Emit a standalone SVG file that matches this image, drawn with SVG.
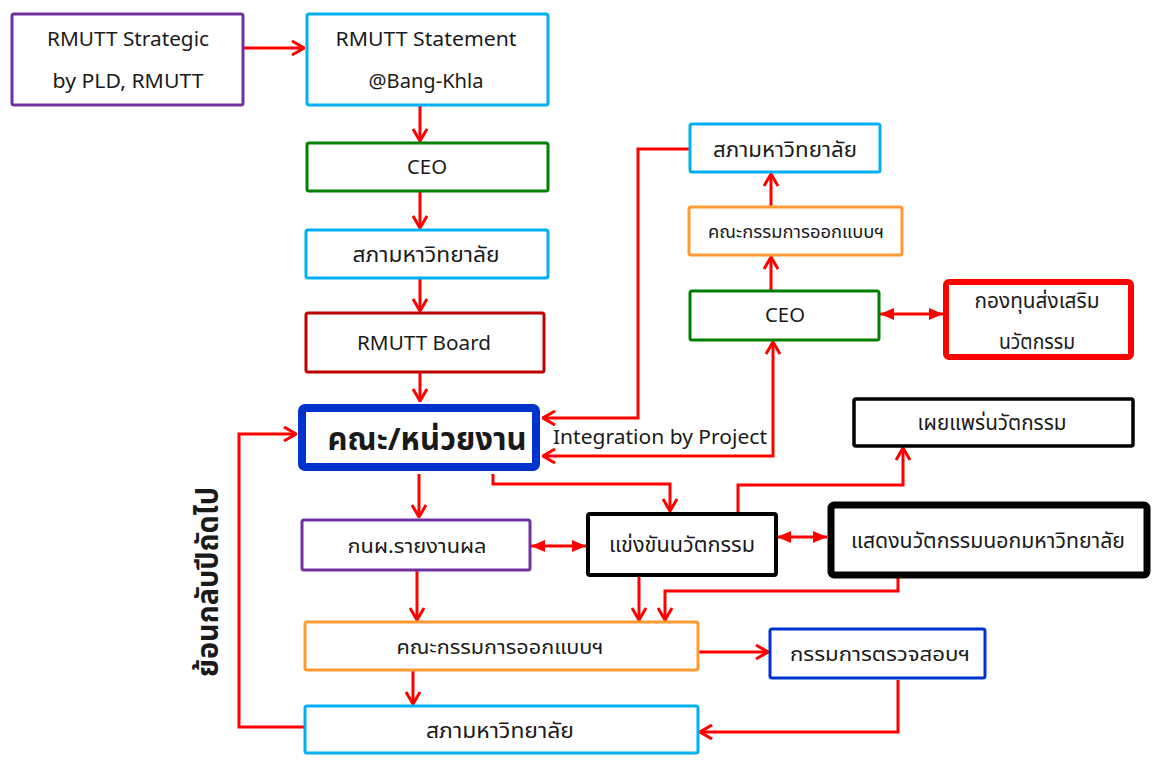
<svg xmlns="http://www.w3.org/2000/svg" width="1153" height="764" viewBox="0 0 1153 764">
<defs>
<style>
.b{fill:#fff;stroke-width:3}
.t{font-family:"Noto Sans","Noto Sans Thai","Leelawadee UI",Tahoma,sans-serif;fill:#1a1a1a;text-anchor:middle;font-size:20px}
.th{font-size:22px}
.c{fill:none;stroke:#ff0000;stroke-width:3}
</style>
<marker id="a" viewBox="0 0 14 16" refX="13" refY="8" markerWidth="14" markerHeight="16" markerUnits="userSpaceOnUse" orient="auto-start-reverse">
<path d="M1,1 L13,8 L1,15" fill="none" stroke="#ff0000" stroke-width="3"/>
</marker>
<marker id="f" viewBox="0 0 14 14" refX="14" refY="7" markerWidth="14" markerHeight="14" markerUnits="userSpaceOnUse" orient="auto-start-reverse">
<path d="M0,1 L14,7 L0,13 Z" fill="#ff0000"/>
</marker>
</defs>
<rect width="1153" height="764" fill="#fff"/>
<g id="connectors">
<path class="c" d="M243,48 H304" marker-end="url(#a)"/>
<path class="c" d="M420,106 V141" marker-end="url(#a)"/>
<path class="c" d="M420,192 V228" marker-end="url(#a)"/>
<path class="c" d="M420,279 V311" marker-end="url(#a)"/>
<path class="c" d="M420,372 V401" marker-end="url(#a)"/>
<path class="c" d="M690,149 H638 V418 H543" marker-end="url(#a)"/>
<path class="c" d="M543,456 H773 V342" marker-start="url(#a)" marker-end="url(#a)"/>
<path class="c" d="M771,291 V257" marker-end="url(#a)"/>
<path class="c" d="M771,207 V174" marker-end="url(#a)"/>
<path class="c" d="M880,314 H943" marker-start="url(#f)" marker-end="url(#f)"/>
<path class="c" d="M419,474 V517" marker-end="url(#a)"/>
<path class="c" d="M493,474 V484 H670 V511" marker-end="url(#a)"/>
<path class="c" d="M531,546 H586" marker-start="url(#f)" marker-end="url(#f)"/>
<path class="c" d="M738,512 V485 H903 V448" marker-end="url(#a)"/>
<path class="c" d="M777,537 H827" marker-start="url(#f)" marker-end="url(#f)"/>
<path class="c" d="M417,571 V620" marker-end="url(#a)"/>
<path class="c" d="M639,577 V620" marker-end="url(#a)"/>
<path class="c" d="M898,578 V591 H665 V620" marker-end="url(#a)"/>
<path class="c" d="M699,652 H768" marker-end="url(#a)"/>
<path class="c" d="M413,671 V704" marker-end="url(#a)"/>
<path class="c" d="M898,680 V732 H700" marker-end="url(#a)"/>
<path class="c" d="M305,727 H239 V434 H296" marker-end="url(#a)"/>
</g>
<g id="n1"><rect class="b" x="12" y="14" width="231" height="91" rx="2" stroke="#7030a0"/><text class="t" x="128" y="46" textLength="162" lengthAdjust="spacingAndGlyphs">RMUTT Strategic</text><text class="t" x="128" y="88" textLength="151" lengthAdjust="spacingAndGlyphs">by PLD, RMUTT</text></g>
<g id="n2"><rect class="b" x="307" y="14" width="241" height="91" rx="2" stroke="#00b0f0"/><text class="t" x="426" y="46" textLength="181" lengthAdjust="spacingAndGlyphs">RMUTT Statement</text><text class="t" x="426" y="88" textLength="115" lengthAdjust="spacingAndGlyphs">@Bang-Khla</text></g>
<g id="n3"><rect class="b" x="307" y="143" width="241" height="48" rx="2" stroke="#008000"/><text class="t" x="427" y="174" textLength="40" lengthAdjust="spacingAndGlyphs">CEO</text></g>
<g id="n4"><rect class="b" x="306" y="230" width="242" height="48" rx="2" stroke="#00b0f0"/><text class="t th" x="426" y="262" textLength="147" lengthAdjust="spacingAndGlyphs">สภามหาวิทยาลัย</text></g>
<g id="n5"><rect class="b" x="306" y="313" width="238" height="59" rx="2" stroke="#c00000"/><text class="t" x="424" y="350" textLength="134" lengthAdjust="spacingAndGlyphs">RMUTT Board</text></g>
<g id="n6"><rect x="302" y="408" width="234" height="59" rx="3" fill="#fff" stroke="#0033cc" stroke-width="8"/><text class="t" x="427" y="450" style="font-size:31px;font-weight:bold" textLength="199" lengthAdjust="spacingAndGlyphs">คณะ/หน่วยงาน</text></g>
<text class="t" x="660" y="444" style="font-size:19px" textLength="214" lengthAdjust="spacingAndGlyphs">Integration by Project</text>
<g id="n7"><rect class="b" x="690" y="124" width="190" height="48" rx="2" stroke="#00b0f0"/><text class="t th" x="785" y="157" textLength="144" lengthAdjust="spacingAndGlyphs">สภามหาวิทยาลัย</text></g>
<g id="n8"><rect class="b" x="689" y="207" width="213" height="48" rx="2" stroke="#ff9933"/><text class="t" x="796" y="238" style="font-size:18px" textLength="176" lengthAdjust="spacingAndGlyphs">คณะกรรมการออกแบบฯ</text></g>
<g id="n9"><rect class="b" x="690" y="291" width="189" height="49" rx="2" stroke="#008000"/><text class="t" x="785" y="322" textLength="40" lengthAdjust="spacingAndGlyphs">CEO</text></g>
<g id="n10"><rect x="946" y="282" width="185" height="75" rx="3" fill="#fff" stroke="#ff0000" stroke-width="6"/><text class="t th" x="1037" y="308" textLength="125" lengthAdjust="spacingAndGlyphs">กองทุนส่งเสริม</text><text class="t th" x="1037" y="349" textLength="76" lengthAdjust="spacingAndGlyphs">นวัตกรรม</text></g>
<g id="n11"><rect x="854" y="399" width="279" height="47" rx="2" fill="#fff" stroke="#000" stroke-width="3.5"/><text class="t th" x="992" y="430" textLength="149" lengthAdjust="spacingAndGlyphs">เผยแพร่นวัตกรรม</text></g>
<g id="n12"><rect class="b" x="302" y="520" width="228" height="50" rx="2" stroke="#7030a0"/><text class="t" x="417" y="553" style="font-size:20px" textLength="139" lengthAdjust="spacingAndGlyphs">กนผ.รายงานผล</text></g>
<g id="n13"><rect x="588" y="514" width="188" height="61" rx="2" fill="#fff" stroke="#000" stroke-width="4"/><text class="t th" x="682" y="552" textLength="146" lengthAdjust="spacingAndGlyphs">แข่งขันนวัตกรรม</text></g>
<g id="n14"><rect x="831" y="505" width="316" height="70" rx="3" fill="#fff" stroke="#000" stroke-width="7"/><text class="t th" x="988" y="548" textLength="274" lengthAdjust="spacingAndGlyphs">แสดงนวัตกรรมนอกมหาวิทยาลัย</text></g>
<g id="n15"><rect class="b" x="305" y="622" width="393" height="48" rx="2" stroke="#ff9933"/><text class="t" x="500" y="654" style="font-size:20px" textLength="207" lengthAdjust="spacingAndGlyphs">คณะกรรมการออกแบบฯ</text></g>
<g id="n16"><rect class="b" x="770" y="629" width="215" height="49" rx="2" stroke="#0033cc"/><text class="t" x="880" y="661" style="font-size:20px" textLength="180" lengthAdjust="spacingAndGlyphs">กรรมการตรวจสอบฯ</text></g>
<g id="n17"><rect class="b" x="305" y="706" width="393" height="47" rx="2" stroke="#00b0f0"/><text class="t th" x="500" y="738" textLength="148" lengthAdjust="spacingAndGlyphs">สภามหาวิทยาลัย</text></g>
<text class="t" transform="translate(218,582) rotate(-90)" style="font-size:30px;font-weight:bold" textLength="190" lengthAdjust="spacingAndGlyphs">ย้อนกลับปีถัดไป</text>
</svg>
